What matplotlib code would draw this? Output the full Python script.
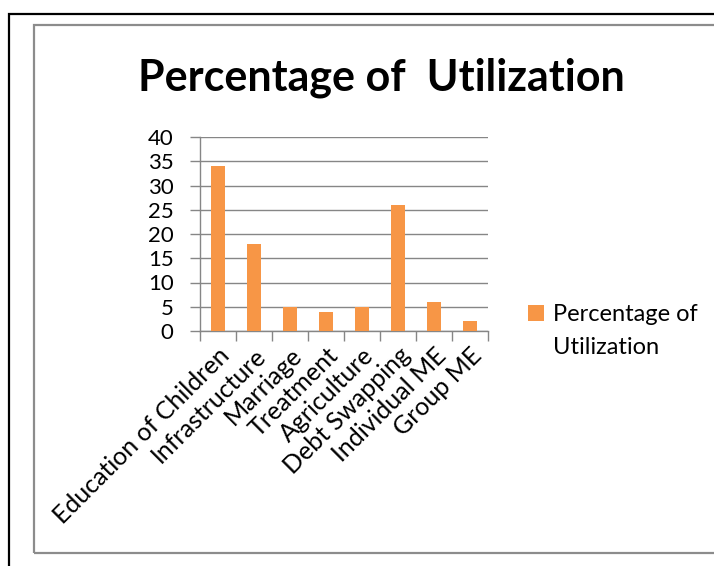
import matplotlib
matplotlib.use('Agg')
import matplotlib.pyplot as plt
from matplotlib.patches import Rectangle

categories = ['Education of Children', 'Infrastructure', 'Marriage', 'Treatment',
              'Agriculture', 'Debt Swapping', 'Individual ME', 'Group ME']
values = [34, 18, 5, 4, 5, 26, 6, 2]
series_name = ['Percentage of', 'Utilization']
y_ticks = [0, 5, 10, 15, 20, 25, 30, 35, 40]

plt.rcParams['font.family'] = ['Lato', 'DejaVu Sans']

W, H = 714, 566
fig = plt.figure(figsize=(W / 100, H / 100), dpi=100)

# outer black frame and inner grey chart frame
fig.patches.append(Rectangle((9 / W, -0.1), 1.2, 1 - 14 / H + 0.1, transform=fig.transFigure,
                             fill=False, edgecolor='black', linewidth=1.6))
fig.patches.append(Rectangle((34 / W, 1 - 553 / H), 1.2, (553 - 25) / H, transform=fig.transFigure,
                             fill=False, edgecolor='#8c8c8c', linewidth=1.6))

ax = fig.add_axes([200 / W, 1 - 331 / H, 288 / W, 194 / H])
x = list(range(len(categories)))
ax.bar(x, values, width=0.4, color='#F79646', label=series_name[0], zorder=3)

ax.set_xlim(-0.5, len(categories) - 0.5)
ax.set_ylim(0, 40)
ax.set_yticks(y_ticks)
ax.set_yticklabels([str(t) for t in y_ticks], fontsize=16)
ax.grid(True, axis='y', color='#868686', linewidth=1.0, zorder=0)
ax.set_axisbelow(True)

ax.set_xticks([i - 0.5 for i in range(len(categories) + 1)])
ax.set_xticklabels([])
ax.set_xticks(x, minor=True)
ax.set_xticklabels(categories, minor=True, rotation=45, ha='right',
                   rotation_mode='anchor', fontsize=18)
ax.tick_params(axis='x', which='minor', length=0, pad=9)
ax.tick_params(axis='x', which='major', length=7, color='#868686', width=1)
ax.tick_params(axis='y', length=7, color='#868686', width=1, pad=12)

for s in ['top', 'right']:
    ax.spines[s].set_visible(False)
for s in ['left', 'bottom']:
    ax.spines[s].set_color('#868686')
    ax.spines[s].set_linewidth(1.0)

fig.text(381 / W, 1 - 78 / H, 'Percentage of  Utilization', ha='center', va='center',
         fontsize=31, fontweight='bold')

ax.legend(loc='center left', bbox_to_anchor=(516 / W, 1 - 315 / H),
          bbox_transform=fig.transFigure, frameon=False, fontsize=17,
          handlelength=0.7, handleheight=0.7, handletextpad=0.35, borderpad=0)
fig.text(553 / W, 1 - 347 / H, series_name[1], ha='left', va='center', fontsize=17)

fig.savefig('out.png', dpi=100)
